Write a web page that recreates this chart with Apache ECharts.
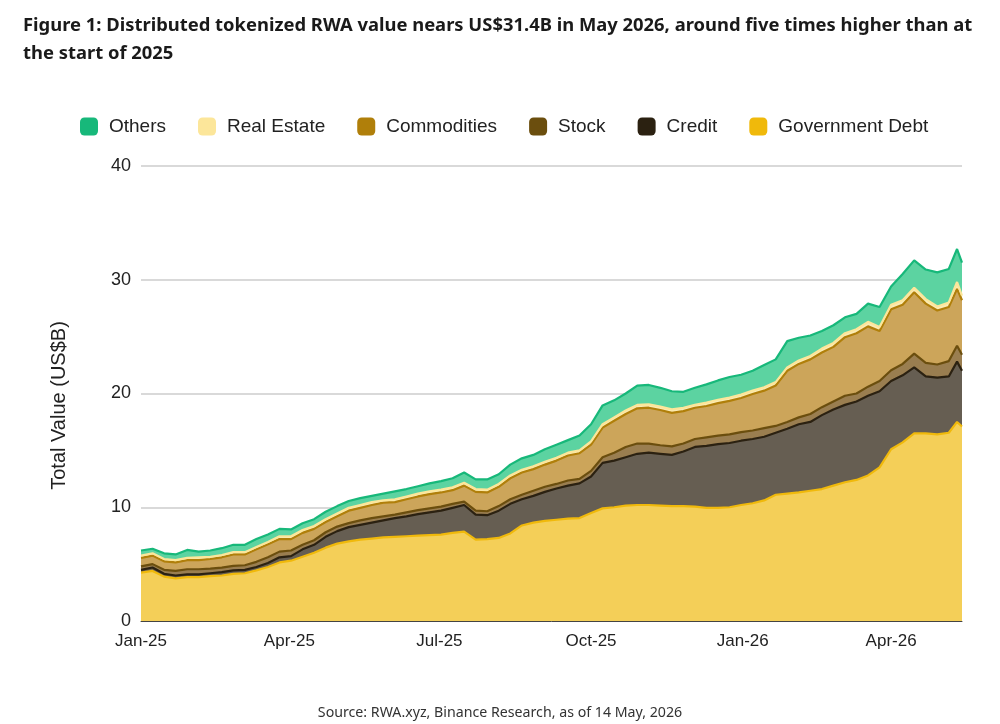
<!DOCTYPE html>
<html>
<head>
<meta charset="utf-8">
<script src="https://cdn.jsdelivr.net/npm/echarts@6.0.0/dist/echarts.min.js"></script>
<style>
  html, body { margin: 0; padding: 0; background: #fff; }
  #main { width: 1000px; height: 724px; }
</style>
</head>
<body>
<div id="main"></div>
<script>
// weekly readings (US$B), last two points are 11 and 14 May 2026
var dates = [
  '2025-01-01','2025-01-08','2025-01-15','2025-01-22','2025-01-29','2025-02-05','2025-02-12','2025-02-19','2025-02-26',
  '2025-03-05','2025-03-12','2025-03-19','2025-03-26','2025-04-02','2025-04-09','2025-04-16','2025-04-23','2025-04-30',
  '2025-05-07','2025-05-14','2025-05-21','2025-05-28','2025-06-04','2025-06-11','2025-06-18','2025-06-25','2025-07-02',
  '2025-07-09','2025-07-16','2025-07-23','2025-07-30','2025-08-06','2025-08-13','2025-08-20','2025-08-27','2025-09-03',
  '2025-09-10','2025-09-17','2025-09-24','2025-10-01','2025-10-08','2025-10-15','2025-10-22','2025-10-29','2025-11-05',
  '2025-11-12','2025-11-19','2025-11-26','2025-12-03','2025-12-10','2025-12-17','2025-12-24','2025-12-31','2026-01-07',
  '2026-01-14','2026-01-21','2026-01-28','2026-02-04','2026-02-11','2026-02-18','2026-02-25','2026-03-04','2026-03-11',
  '2026-03-18','2026-03-25','2026-04-01','2026-04-08','2026-04-15','2026-04-22','2026-04-29','2026-05-06','2026-05-11',
  '2026-05-14'
];

var govDebt = [
  4.25, 4.40, 3.90, 3.75, 3.85, 3.85, 3.95, 4.00, 4.15, 4.20, 4.45, 4.75, 5.15, 5.30, 5.65, 6.00, 6.45, 6.80,
  7.00, 7.15, 7.25, 7.35, 7.40, 7.45, 7.50, 7.55, 7.60, 7.75, 7.85, 7.15, 7.20, 7.30, 7.70, 8.40, 8.65, 8.80,
  8.90, 9.00, 9.05, 9.50, 9.90, 10.00, 10.15, 10.20, 10.20, 10.15, 10.10, 10.10, 10.05, 9.95, 9.95, 10.00, 10.20, 10.35,
  10.60, 11.10, 11.20, 11.30, 11.45, 11.60, 11.90, 12.20, 12.40, 12.80, 13.50, 15.10, 15.70, 16.50, 16.50, 16.40, 16.55, 17.50,
  17.10
];
var credit = [
  0.25, 0.30, 0.25, 0.25, 0.25, 0.25, 0.25, 0.30, 0.30, 0.30, 0.30, 0.35, 0.45, 0.40, 0.65, 0.70, 0.95, 1.10,
  1.25, 1.30, 1.40, 1.50, 1.65, 1.75, 1.90, 2.00, 2.10, 2.20, 2.35, 2.20, 2.10, 2.40, 2.60, 2.30, 2.35, 2.55,
  2.75, 2.90, 3.05, 3.20, 4.00, 4.10, 4.25, 4.50, 4.60, 4.55, 4.50, 4.80, 5.25, 5.45, 5.60, 5.65, 5.65, 5.65,
  5.60, 5.45, 5.70, 6.00, 6.05, 6.50, 6.70, 6.80, 6.90, 7.00, 6.70, 6.00, 5.90, 5.80, 5.00, 5.00, 4.95, 5.30,
  4.90
];
var stock = [
  0.30, 0.30, 0.35, 0.40, 0.45, 0.45, 0.40, 0.40, 0.40, 0.40, 0.45, 0.50, 0.50, 0.50, 0.40, 0.40, 0.40, 0.40,
  0.35, 0.40, 0.40, 0.35, 0.30, 0.35, 0.35, 0.35, 0.35, 0.35, 0.30, 0.35, 0.35, 0.40, 0.40, 0.40, 0.45, 0.45,
  0.40, 0.45, 0.40, 0.50, 0.50, 0.70, 0.90, 0.90, 0.80, 0.75, 0.75, 0.70, 0.70, 0.75, 0.75, 0.75, 0.75, 0.75,
  0.75, 0.60, 0.60, 0.60, 0.70, 0.70, 0.70, 0.80, 0.70, 0.80, 0.90, 0.95, 1.00, 1.20, 1.20, 1.15, 1.35, 1.40,
  1.40
];
var commodities = [
  0.75, 0.75, 0.75, 0.75, 0.80, 0.80, 0.85, 0.90, 1.00, 0.95, 1.10, 1.15, 1.10, 1.00, 1.05, 1.00, 0.90, 0.90,
  1.10, 1.10, 1.15, 1.20, 1.10, 1.15, 1.20, 1.25, 1.25, 1.20, 1.40, 1.65, 1.65, 1.70, 1.85, 1.95, 1.90, 1.95,
  2.05, 2.20, 2.25, 2.30, 2.60, 2.80, 2.90, 3.10, 3.15, 3.10, 2.95, 2.85, 2.75, 2.75, 2.85, 2.95, 3.00, 3.20,
  3.30, 3.55, 4.50, 4.70, 4.80, 4.80, 4.80, 5.15, 5.30, 5.30, 4.40, 5.35, 5.20, 5.40, 5.20, 4.75, 4.75, 5.00,
  4.80
];
var realEstate = [
  0.20, 0.20, 0.20, 0.20, 0.20, 0.25, 0.20, 0.20, 0.20, 0.20, 0.20, 0.20, 0.25, 0.25, 0.25, 0.25, 0.25, 0.25,
  0.25, 0.25, 0.25, 0.20, 0.25, 0.25, 0.25, 0.25, 0.25, 0.25, 0.25, 0.25, 0.25, 0.25, 0.25, 0.25, 0.25, 0.25,
  0.25, 0.25, 0.25, 0.30, 0.30, 0.30, 0.30, 0.30, 0.30, 0.30, 0.30, 0.30, 0.25, 0.30, 0.30, 0.30, 0.30, 0.30,
  0.30, 0.30, 0.30, 0.30, 0.30, 0.35, 0.35, 0.35, 0.35, 0.40, 0.35, 0.40, 0.40, 0.40, 0.40, 0.35, 0.40, 0.60,
  0.40
];
var others = [
  0.45, 0.40, 0.50, 0.50, 0.70, 0.50, 0.55, 0.60, 0.65, 0.65, 0.70, 0.65, 0.65, 0.60, 0.60, 0.60, 0.65, 0.65,
  0.60, 0.60, 0.55, 0.60, 0.70, 0.65, 0.65, 0.70, 0.75, 0.80, 0.90, 0.85, 0.90, 0.85, 0.95, 1.00, 1.00, 1.10,
  1.15, 1.10, 1.30, 1.50, 1.65, 1.50, 1.50, 1.70, 1.70, 1.65, 1.60, 1.40, 1.50, 1.60, 1.70, 1.80, 1.75, 1.75,
  1.95, 2.00, 2.30, 2.00, 1.80, 1.55, 1.55, 1.40, 1.35, 1.60, 1.75, 1.60, 2.30, 2.40, 2.60, 3.00, 2.95, 2.90,
  2.90
];

var legendOrder = ['Others', 'Real Estate', 'Commodities', 'Stock', 'Credit', 'Government Debt'];
var startDate = '2025-01-01';
var endDate = '2026-05-14';
var labelMonths = [0, 3, 6, 9]; // Jan, Apr, Jul, Oct
var monthNames = ['Jan','Feb','Mar','Apr','May','Jun','Jul','Aug','Sep','Oct','Nov','Dec'];

var DAY = 86400000;
function ts(s) {
  var p = s.split('-');
  return Date.UTC(+p[0], +p[1] - 1, +p[2]);
}
function pairs(vals) {
  return vals.map(function (v, i) { return [ts(dates[i]), v]; });
}

function layer(name, vals, lineColor, fillColor) {
  return {
    name: name,
    type: 'line',
    stack: 'rwa',
    data: pairs(vals),
    symbol: 'none',
    showSymbol: false,
    color: lineColor,
    lineStyle: { width: 2.2, color: lineColor },
    areaStyle: { color: fillColor, opacity: 1 },
    emphasis: { disabled: true }
  };
}

var myChart = echarts.init(document.getElementById('main'));
myChart.setOption({
  animation: false,
  useUTC: true,
  backgroundColor: '#ffffff',
  title: {
    text: 'Figure 1: Distributed tokenized RWA value nears US$31.4B in May 2026, around five times higher than at\nthe start of 2025',
    left: 18,
    top: 7,
    textStyle: { fontFamily: 'Noto Sans', fontWeight: 'bold', fontSize: 18.4, color: '#1a1a1a', lineHeight: 28 }
  },
  legend: {
    data: legendOrder,
    top: 112,
    left: 75,
    itemWidth: 18,
    itemHeight: 18,
    itemGap: 32,
    icon: 'roundRect',
    textStyle: { fontFamily: 'Liberation Sans', fontSize: 19, color: '#222', padding: [0, 0, 0, 6] }
  },
  grid: { left: 141, right: 38, top: 166, bottom: 103 },
  xAxis: {
    type: 'time',
    min: ts(startDate),
    max: ts(endDate),
    minInterval: 28 * DAY,
    maxInterval: 31 * DAY,
    axisLine: { show: true, lineStyle: { color: '#444', width: 1 } },
    axisTick: { show: false },
    splitLine: { show: false },
    axisLabel: {
      interval: 0,
      fontFamily: 'Liberation Sans',
      fontSize: 17,
      color: '#222',
      margin: 12,
      hideOverlap: false,
      showMinLabel: true,
      showMaxLabel: false,
      formatter: function (val) {
        var d = new Date(val);
        if (d.getUTCDate() !== 1 || labelMonths.indexOf(d.getUTCMonth()) < 0) return '';
        return monthNames[d.getUTCMonth()] + '-' + String(d.getUTCFullYear()).slice(2);
      }
    }
  },
  yAxis: {
    type: 'value',
    min: 0,
    max: 40,
    interval: 10,
    name: 'Total Value (US$B)',
    nameLocation: 'middle',
    nameGap: 72,
    nameTextStyle: { fontFamily: 'Liberation Sans', fontSize: 20, color: '#222', padding: [0, 24, 0, 0] },
    axisLine: { show: false },
    axisTick: { show: false },
    axisLabel: { fontFamily: 'Liberation Sans', fontSize: 18, color: '#222', margin: 10 },
    splitLine: { lineStyle: { color: '#cccccc', width: 1.5 } }
  },
  graphic: [{
    type: 'text',
    left: 'center',
    top: 706,
    style: {
      text: 'Source: RWA.xyz, Binance Research, as of 14 May, 2026',
      fontFamily: 'Noto Sans',
      fontSize: 14.2,
      fill: '#333'
    }
  }],
  series: [
    layer('Government Debt', govDebt, '#F0B90B', '#F4CF58'),
    layer('Credit', credit, '#2B2111', '#665E52'),
    layer('Stock', stock, '#6B4E0E', '#9A7E50'),
    layer('Commodities', commodities, '#B07F0A', '#CCA55A'),
    layer('Real Estate', realEstate, '#FCE69A', '#FBEBB5'),
    layer('Others', others, '#17B87A', '#5CD3A1')
  ]
});
</script>
</body>
</html>
